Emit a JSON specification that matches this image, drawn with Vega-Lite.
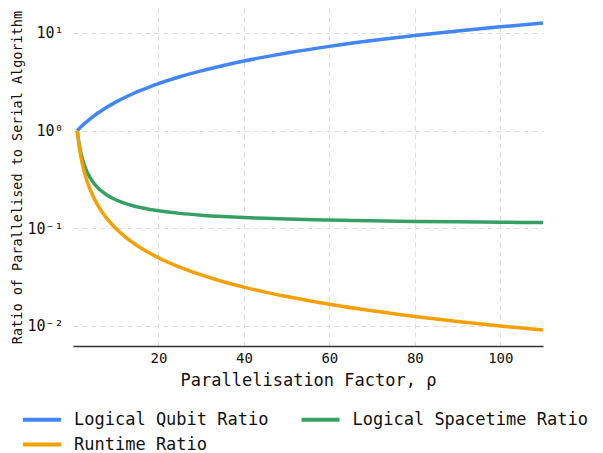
{
  "$schema": "https://vega.github.io/schema/vega-lite/v6.json",
  "width": 470,
  "height": 338,
  "autosize": "none",
  "padding": {"left": 73, "top": 8, "right": 60, "bottom": 107},
  "background": "white",
  "config": {
    "font": "DejaVu Sans Mono",
    "view": {"stroke": null}
  },
  "data": {
    "values": [
      {"rho": 1, "Logical Qubit Ratio": 1, "Runtime Ratio": 1, "Logical Spacetime Ratio": 1},
      {"rho": 1.25, "Logical Qubit Ratio": 1.0266, "Runtime Ratio": 0.8, "Logical Spacetime Ratio": 0.8213},
      {"rho": 1.5, "Logical Qubit Ratio": 1.0533, "Runtime Ratio": 0.6667, "Logical Spacetime Ratio": 0.7022},
      {"rho": 1.75, "Logical Qubit Ratio": 1.0799, "Runtime Ratio": 0.5714, "Logical Spacetime Ratio": 0.6171},
      {"rho": 2, "Logical Qubit Ratio": 1.1065, "Runtime Ratio": 0.5, "Logical Spacetime Ratio": 0.5533},
      {"rho": 2.5, "Logical Qubit Ratio": 1.1598, "Runtime Ratio": 0.4, "Logical Spacetime Ratio": 0.4639},
      {"rho": 3, "Logical Qubit Ratio": 1.213, "Runtime Ratio": 0.3333, "Logical Spacetime Ratio": 0.4043},
      {"rho": 3.5, "Logical Qubit Ratio": 1.2663, "Runtime Ratio": 0.2857, "Logical Spacetime Ratio": 0.3618},
      {"rho": 4, "Logical Qubit Ratio": 1.3195, "Runtime Ratio": 0.25, "Logical Spacetime Ratio": 0.3299},
      {"rho": 5, "Logical Qubit Ratio": 1.426, "Runtime Ratio": 0.2, "Logical Spacetime Ratio": 0.2852},
      {"rho": 6, "Logical Qubit Ratio": 1.5325, "Runtime Ratio": 0.1667, "Logical Spacetime Ratio": 0.2554},
      {"rho": 7, "Logical Qubit Ratio": 1.639, "Runtime Ratio": 0.1429, "Logical Spacetime Ratio": 0.2341},
      {"rho": 8, "Logical Qubit Ratio": 1.7455, "Runtime Ratio": 0.125, "Logical Spacetime Ratio": 0.2182},
      {"rho": 10, "Logical Qubit Ratio": 1.9585, "Runtime Ratio": 0.1, "Logical Spacetime Ratio": 0.1959},
      {"rho": 12, "Logical Qubit Ratio": 2.1715, "Runtime Ratio": 0.08333, "Logical Spacetime Ratio": 0.181},
      {"rho": 14, "Logical Qubit Ratio": 2.3845, "Runtime Ratio": 0.07143, "Logical Spacetime Ratio": 0.1703},
      {"rho": 16, "Logical Qubit Ratio": 2.5975, "Runtime Ratio": 0.0625, "Logical Spacetime Ratio": 0.1623},
      {"rho": 18, "Logical Qubit Ratio": 2.8105, "Runtime Ratio": 0.05556, "Logical Spacetime Ratio": 0.1561},
      {"rho": 20, "Logical Qubit Ratio": 3.0235, "Runtime Ratio": 0.05, "Logical Spacetime Ratio": 0.1512},
      {"rho": 25, "Logical Qubit Ratio": 3.556, "Runtime Ratio": 0.04, "Logical Spacetime Ratio": 0.1422},
      {"rho": 30, "Logical Qubit Ratio": 4.0885, "Runtime Ratio": 0.03333, "Logical Spacetime Ratio": 0.1363},
      {"rho": 35, "Logical Qubit Ratio": 4.621, "Runtime Ratio": 0.02857, "Logical Spacetime Ratio": 0.132},
      {"rho": 40, "Logical Qubit Ratio": 5.1535, "Runtime Ratio": 0.025, "Logical Spacetime Ratio": 0.1288},
      {"rho": 45, "Logical Qubit Ratio": 5.686, "Runtime Ratio": 0.02222, "Logical Spacetime Ratio": 0.1264},
      {"rho": 50, "Logical Qubit Ratio": 6.2185, "Runtime Ratio": 0.02, "Logical Spacetime Ratio": 0.1244},
      {"rho": 60, "Logical Qubit Ratio": 7.2835, "Runtime Ratio": 0.01667, "Logical Spacetime Ratio": 0.1214},
      {"rho": 70, "Logical Qubit Ratio": 8.3485, "Runtime Ratio": 0.01429, "Logical Spacetime Ratio": 0.1193},
      {"rho": 80, "Logical Qubit Ratio": 9.4135, "Runtime Ratio": 0.0125, "Logical Spacetime Ratio": 0.1177},
      {"rho": 90, "Logical Qubit Ratio": 10.4785, "Runtime Ratio": 0.01111, "Logical Spacetime Ratio": 0.1164},
      {"rho": 100, "Logical Qubit Ratio": 11.5435, "Runtime Ratio": 0.01, "Logical Spacetime Ratio": 0.1154},
      {"rho": 110, "Logical Qubit Ratio": 12.6085, "Runtime Ratio": 0.009091, "Logical Spacetime Ratio": 0.1146}
    ]
  },
  "transform": [
    {"fold": ["Logical Qubit Ratio", "Logical Spacetime Ratio", "Runtime Ratio"], "as": ["series", "value"]}
  ],
  "mark": {"type": "line", "strokeWidth": 3.5, "interpolate": "monotone", "clip": true},
  "encoding": {
    "x": {
      "field": "rho",
      "type": "quantitative",
      "scale": {"domain": [0, 110], "nice": false, "zero": false},
      "axis": {
        "values": [20, 40, 60, 80, 100],
        "title": "Parallelisation Factor, ρ",
        "titleFontSize": 17,
        "titleFontWeight": "normal",
        "titleColor": "#111",
        "titlePadding": 7,
        "labelFontSize": 14,
        "labelColor": "#111",
        "labelPadding": 5,
        "ticks": false,
        "domainColor": "#333",
        "domainWidth": 1.5,
        "grid": true,
        "gridDash": [5, 4],
        "gridColor": "#dddddd",
        "gridWidth": 1
      }
    },
    "y": {
      "field": "value",
      "type": "quantitative",
      "scale": {"type": "log", "domain": [0.00624, 18], "nice": false},
      "axis": {
        "values": [0.01, 0.1, 1, 10],
        "labelExpr": "datum.value >= 10 ? '10¹' : datum.value >= 1 ? '10⁰' : datum.value >= 0.1 ? '10⁻¹' : '10⁻²'",
        "title": "Ratio of Parallelised to Serial Algorithm",
        "titleFontSize": 13.5,
        "titleFontWeight": "normal",
        "titleColor": "#111",
        "titlePadding": 2,
        "labelFontSize": 15,
        "labelColor": "#111",
        "labelPadding": 10,
        "ticks": false,
        "domain": false,
        "grid": true,
        "gridDash": [5, 4],
        "gridColor": "#dddddd",
        "gridWidth": 1
      }
    },
    "color": {
      "field": "series",
      "type": "nominal",
      "scale": {
        "domain": ["Logical Qubit Ratio", "Logical Spacetime Ratio", "Runtime Ratio"],
        "range": ["#4285F4", "#36A064", "#F5A000"]
      },
      "legend": {
        "title": null,
        "orient": "none",
        "legendX": -42.5,
        "legendY": 400,
        "direction": "horizontal",
        "columns": 2,
        "symbolType": "M-2,0L2,0",
        "symbolSize": 361,
        "symbolStrokeWidth": 4,
        "symbolFillColor": "transparent",
        "labelFontSize": 17,
        "labelColor": "#111",
        "labelOffset": 20.5,
        "columnPadding": 24.5,
        "rowPadding": 5,
        "labelLimit": 400
      }
    }
  }
}
